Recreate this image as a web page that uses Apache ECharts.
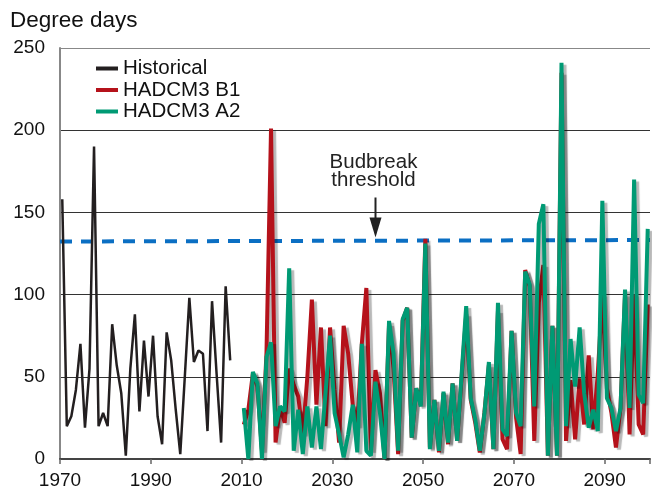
<!DOCTYPE html>
<html><head><meta charset="utf-8">
<script src="https://cdn.jsdelivr.net/npm/echarts@6/dist/echarts.min.js"></script>
<style>html,body{margin:0;padding:0;background:#fff}#c{width:653px;height:492px}</style>
</head><body><div id="c"></div>
<script>
// ---- data ----
const histStartYear = 1970;
const histValues = [158, 20, 26, 42, 70, 19, 55, 190, 20, 28, 20, 82, 57, 40, 2, 55, 88, 29, 72, 38,
                    75, 26, 9, 77, 60, 30, 3, 50, 98, 59, 66, 64, 17, 96, 52, 10, 105, 60];
const projStartYear = 2010;
const b1Values = [21, 30, 52, 44, 5, 65, 201, 10, 32, 22,
                  55, 45, 38, 15, 50, 97, 33, 80, 20, 80,
                  42, 10, 81, 64, 33, 20, 70, 104, 5, 54,
                  40, 0, 82, 55, 3, 84, 92, 13, 43, 33,
                  134, 7, 36, 4, 40, 9, 46, 11, 50, 88,
                  36, 22, 4, 28, 57, 6, 90, 12, 6, 78,
                  25, 3, 115, 105, 11, 95, 118, 2, 81, 2,
                  235, 11, 48, 12, 49, 21, 63, 18, 52, 100,
                  43, 28, 7, 31, 100, 15, 100, 21, 15, 94];
const a2Values = [31, 0, 53, 46, 0, 62, 71, 20, 32, 29,
                  116, 5, 30, 3, 32, 7, 32, 6, 40, 75,
                  28, 15, 1, 15, 33, 4, 70, 5, 2, 47,
                  28, 0, 84, 64, 5, 85, 92, 13, 43, 32,
                  131, 6, 36, 5, 41, 10, 46, 11, 52, 93,
                  37, 24, 5, 27, 59, 6, 95, 18, 14, 78,
                  28, 20, 114, 106, 32, 143, 155, 2, 81, 2,
                  241, 20, 73, 44, 80, 40, 19, 30, 17, 157,
                  37, 31, 17, 31, 103, 31, 170, 39, 34, 140];
const thresholdYears = [1970, 2100];
const thresholdValues = [132.3, 133.2];
const xTickLabels = ['1970', '1990', '2010', '2030', '2050', '2070', '2090'];
const yTickLabels = ['0', '50', '100', '150', '200', '250'];
const seriesNames = ['Historical', 'HADCM3 B1', 'HADCM3 A2'];
const annotationText = 'Budbreak\nthreshold';
const annotationYear = 2039.5;

// ---- build ----
const FONT = '"Liberation Sans", Arial, Helvetica, sans-serif';
const midYear = (start, i) => start + i + 0.5;
const histData = histValues.map((v, i) => [midYear(histStartYear, i), v]);
const b1Data = b1Values.map((v, i) => [midYear(projStartYear, i), v]);
const a2Data = a2Values.map((v, i) => [midYear(projStartYear, i), v]);
const thrData = thresholdYears.map((y, i) => [y, thresholdValues[i]]);

const chart = echarts.init(document.getElementById('c'), null, {renderer: 'canvas'});
const shadow = {shadowColor: 'rgba(0,0,0,0.28)', shadowBlur: 1, shadowOffsetX: 3, shadowOffsetY: 2};

chart.setOption({
  animation: false,
  backgroundColor: '#fff',
  title: {text: 'Degree days', left: 10, top: 9, padding: 0,
          textStyle: {fontFamily: FONT, fontSize: 22.5, fontWeight: 'normal', color: '#111'}},
  legend: {
    orient: 'vertical', left: 96, top: 58, padding: 0,
    itemWidth: 22, itemHeight: 4, itemGap: 0.5,
    textStyle: {fontFamily: FONT, fontSize: 20.5, color: '#111'},
    data: seriesNames.map(n => ({name: n, icon: 'rect'}))
  },
  grid: {left: 60, right: 0, top: 48, bottom: 33},
  xAxis: {
    type: 'value', min: 1970, max: 2100, interval: 20,
    axisLine: {show: true, lineStyle: {color: '#444', width: 2}},
    axisTick: {show: true, length: 5, lineStyle: {color: '#666', width: 1.5}},
    splitLine: {show: false},
    axisLabel: {fontFamily: FONT, fontSize: 19, color: '#111', margin: 12,
                formatter: v => xTickLabels[Math.round((v - 1970) / 20)] || ''}
  },
  yAxis: {
    type: 'value', min: 0, max: 250, interval: 50,
    axisLine: {show: true, lineStyle: {color: '#888', width: 2}},
    axisTick: {show: false},
    splitLine: {show: true, lineStyle: {color: ['#333', '#333', '#333', '#333', '#333', '#888'], width: 1}},
    axisLabel: {fontFamily: FONT, fontSize: 19, color: '#111', margin: 15,
                formatter: v => yTickLabels[Math.round(v / 50)]}
  },
  series: [
    {type: 'line', name: 'threshold', data: thrData, symbol: 'none', z: 1, silent: true,
     lineStyle: {color: '#0b6fc3', width: 4, type: [12, 9]}},
    {type: 'line', name: seriesNames[0], data: histData, symbol: 'none', z: 3,
     color: '#231f20', lineStyle: {color: '#231f20', width: 2.5}},
    {type: 'line', name: seriesNames[1], data: b1Data, symbol: 'none', z: 4,
     color: '#b5121b', lineStyle: Object.assign({color: '#b5121b', width: 4}, shadow)},
    {type: 'line', name: seriesNames[2], data: a2Data, symbol: 'none', z: 5,
     color: '#009a74', lineStyle: Object.assign({color: '#009a74', width: 4}, shadow)}
  ]
});

// annotation anchored to the threshold line
const tip = chart.convertToPixel({gridIndex: 0}, [annotationYear, thresholdValues[0]]);
const ax = Math.round(tip[0]) + 0.5, ty = tip[1] - 4;
chart.setOption({
  graphic: [
    {type: 'text', x: ax - 2, y: ty - 66,
     style: {text: annotationText, x: 0, y: 0, align: 'center', verticalAlign: 'middle',
             font: '20.5px ' + FONT, lineHeight: 18.5, fill: '#222'}},
    {type: 'line', shape: {x1: ax, y1: ty - 40, x2: ax, y2: ty - 16},
     style: {stroke: '#222', lineWidth: 2}},
    {type: 'polygon', shape: {points: [[ax - 6, ty - 20], [ax + 6, ty - 20], [ax, ty]]},
     style: {fill: '#222'}}
  ]
});
</script>
</body></html>
